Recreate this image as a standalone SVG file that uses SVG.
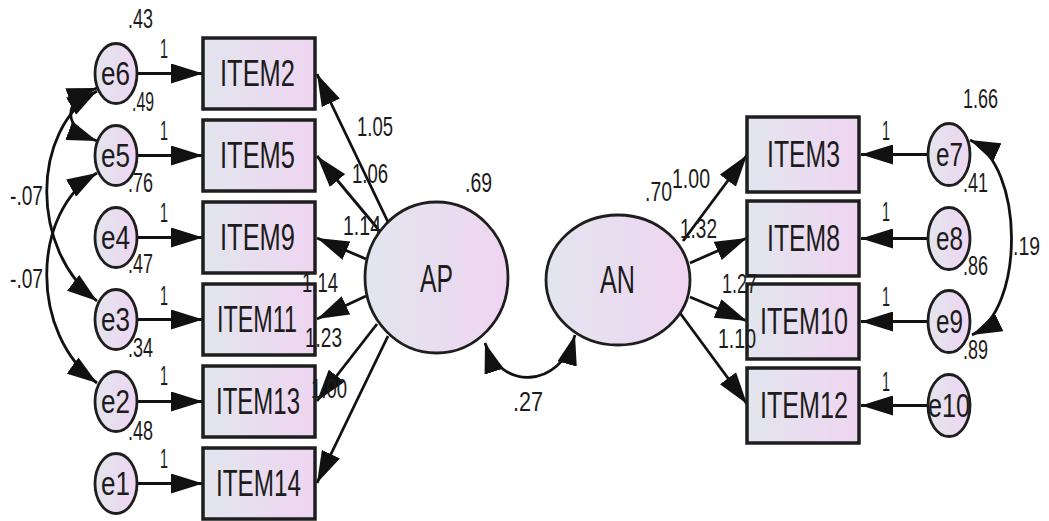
<svg xmlns="http://www.w3.org/2000/svg" width="1049" height="521" viewBox="0 0 1049 521">
<style>
.t{font-family:"Liberation Sans",Arial,sans-serif;fill:#1c1c1c;}
.n{font-size:27px;}
.b{font-size:36px;}
.e{font-size:33px;}
.l{font-size:38px;}
.box{fill:url(#g);stroke:#1e1e1e;stroke-width:3.5;}
.cir{fill:url(#g);stroke:#1e1e1e;stroke-width:2.8;}
.c line,.c path{stroke:#111;stroke-width:2.8;fill:none;}
.a{marker-end:url(#ah);}
.cv{marker-start:url(#ah2);marker-end:url(#ah2);}
</style>
<defs>
<linearGradient id="g" x1="0" y1="0" x2="1" y2="0">
<stop offset="0" stop-color="#e2e5ee"/>
<stop offset="1" stop-color="#efd5f1"/>
</linearGradient>
<marker id="ah" viewBox="0 0 32 20" refX="32" refY="10" markerWidth="32" markerHeight="20" markerUnits="userSpaceOnUse" orient="auto">
<path d="M0,0 L32,10 L0,20 z" fill="#111"/>
</marker>
<marker id="ah2" viewBox="0 0 30 20" refX="30" refY="10" markerWidth="30" markerHeight="20" markerUnits="userSpaceOnUse" orient="auto-start-reverse">
<path d="M0,0 L30,10 L0,20 z" fill="#111"/>
</marker>
</defs>
<rect width="1049" height="521" fill="#fff"/>

<g id="connectors" class="c">
<line class="a" x1="137" y1="73.5" x2="203" y2="73.5"/>
<line class="a" x1="137" y1="155.5" x2="203" y2="155.5"/>
<line class="a" x1="137" y1="237.5" x2="203" y2="237.5"/>
<line class="a" x1="137" y1="319.5" x2="203" y2="319.5"/>
<line class="a" x1="137" y1="401.5" x2="203" y2="401.5"/>
<line class="a" x1="137" y1="483.5" x2="203" y2="483.5"/>
<line class="a" x1="388" y1="222" x2="317" y2="74"/>
<line class="a" x1="378" y1="229" x2="317" y2="156"/>
<line class="a" x1="366" y1="259" x2="317" y2="238"/>
<line class="a" x1="366" y1="296" x2="317" y2="319"/>
<line class="a" x1="377" y1="324" x2="317" y2="401"/>
<line class="a" x1="388" y1="336" x2="317" y2="483"/>
<line class="a" x1="683" y1="241" x2="747" y2="155"/>
<line class="a" x1="690" y1="263" x2="747" y2="238"/>
<line class="a" x1="690" y1="297" x2="747" y2="321"/>
<line class="a" x1="680" y1="313" x2="747" y2="404"/>
<line class="a" x1="928" y1="154.5" x2="861" y2="154.5"/>
<line class="a" x1="928" y1="238.5" x2="861" y2="238.5"/>
<line class="a" x1="928" y1="321.5" x2="861" y2="321.5"/>
<line class="a" x1="928" y1="405.5" x2="861" y2="405.5"/>
<path class="cv" d="M97,88 C62,100 62,128 97,141"/>
<path class="cv" d="M97,91 C30,130 30,250 97,301"/>
<path class="cv" d="M97,173 C30,212 30,335 97,383"/>
<path class="cv" d="M485,343 C500,390 560,390 575,335"/>
<path class="cv" d="M970,140 C1025,165 1025,310 972,335"/>
</g>

<g id="ITEM2"><rect class="box" x="203" y="38" width="112" height="71"/><text class="t b" x="220" y="86" textLength="75" lengthAdjust="spacingAndGlyphs">ITEM2</text></g>
<g id="ITEM5"><rect class="box" x="203" y="120" width="112" height="71"/><text class="t b" x="220" y="168" textLength="75" lengthAdjust="spacingAndGlyphs">ITEM5</text></g>
<g id="ITEM9"><rect class="box" x="203" y="202" width="112" height="71"/><text class="t b" x="220" y="250" textLength="75" lengthAdjust="spacingAndGlyphs">ITEM9</text></g>
<g id="ITEM11"><rect class="box" x="203" y="284" width="112" height="71"/><text class="t b" x="217" y="332" textLength="80" lengthAdjust="spacingAndGlyphs">ITEM11</text></g>
<g id="ITEM13"><rect class="box" x="203" y="366" width="112" height="71"/><text class="t b" x="216" y="414" textLength="84" lengthAdjust="spacingAndGlyphs">ITEM13</text></g>
<g id="ITEM14"><rect class="box" x="203" y="448" width="112" height="71"/><text class="t b" x="216" y="496" textLength="85" lengthAdjust="spacingAndGlyphs">ITEM14</text></g>

<g id="ITEM3"><rect class="box" x="747" y="117" width="112" height="75"/><text class="t b" x="767" y="167" textLength="73" lengthAdjust="spacingAndGlyphs">ITEM3</text></g>
<g id="ITEM8"><rect class="box" x="747" y="201" width="112" height="75"/><text class="t b" x="767" y="251" textLength="73" lengthAdjust="spacingAndGlyphs">ITEM8</text></g>
<g id="ITEM10"><rect class="box" x="747" y="284" width="112" height="75"/><text class="t b" x="760" y="334" textLength="88" lengthAdjust="spacingAndGlyphs">ITEM10</text></g>
<g id="ITEM12"><rect class="box" x="747" y="368" width="112" height="75"/><text class="t b" x="760" y="418" textLength="88" lengthAdjust="spacingAndGlyphs">ITEM12</text></g>

<g id="e6"><ellipse class="cir" cx="116" cy="73.5" rx="21" ry="30"/><text class="t e" x="101" y="85" textLength="29" lengthAdjust="spacingAndGlyphs">e6</text></g>
<g id="e5"><ellipse class="cir" cx="116" cy="155.5" rx="21" ry="30"/><text class="t e" x="101" y="167" textLength="29" lengthAdjust="spacingAndGlyphs">e5</text></g>
<g id="e4"><ellipse class="cir" cx="116" cy="237.5" rx="21" ry="30"/><text class="t e" x="101" y="249" textLength="29" lengthAdjust="spacingAndGlyphs">e4</text></g>
<g id="e3"><ellipse class="cir" cx="116" cy="319.5" rx="21" ry="30"/><text class="t e" x="101" y="331" textLength="29" lengthAdjust="spacingAndGlyphs">e3</text></g>
<g id="e2"><ellipse class="cir" cx="116" cy="401.5" rx="21" ry="30"/><text class="t e" x="101" y="413" textLength="29" lengthAdjust="spacingAndGlyphs">e2</text></g>
<g id="e1"><ellipse class="cir" cx="116" cy="483.5" rx="21" ry="30"/><text class="t e" x="101" y="495" textLength="29" lengthAdjust="spacingAndGlyphs">e1</text></g>

<g id="e7"><ellipse class="cir" cx="949" cy="154.5" rx="21" ry="31"/><text class="t e" x="936" y="166" textLength="27" lengthAdjust="spacingAndGlyphs">e7</text></g>
<g id="e8"><ellipse class="cir" cx="949" cy="238.5" rx="21" ry="31"/><text class="t e" x="936" y="250" textLength="27" lengthAdjust="spacingAndGlyphs">e8</text></g>
<g id="e9"><ellipse class="cir" cx="949" cy="321.5" rx="21" ry="31"/><text class="t e" x="936" y="333" textLength="27" lengthAdjust="spacingAndGlyphs">e9</text></g>
<g id="e10"><ellipse class="cir" cx="949" cy="405.5" rx="21" ry="31"/><text class="t e" x="928" y="417" textLength="42" lengthAdjust="spacingAndGlyphs">e10</text></g>

<g id="AP"><ellipse class="cir" cx="436.5" cy="277.5" rx="71.5" ry="75.5"/><text class="t l" x="420" y="292" textLength="33" lengthAdjust="spacingAndGlyphs">AP</text></g>
<g id="AN"><ellipse class="cir" cx="618" cy="280" rx="72" ry="65"/><text class="t l" x="600" y="293" textLength="35" lengthAdjust="spacingAndGlyphs">AN</text></g>

<g id="labels" class="t n">
<text x="128" y="28" textLength="25" lengthAdjust="spacingAndGlyphs">.43</text>
<text x="160" y="58" textLength="8" lengthAdjust="spacingAndGlyphs">1</text>
<text x="132" y="111" textLength="22" lengthAdjust="spacingAndGlyphs">.49</text>
<text x="160" y="140" textLength="8" lengthAdjust="spacingAndGlyphs">1</text>
<text x="128" y="192" textLength="25" lengthAdjust="spacingAndGlyphs">.76</text>
<text x="10" y="205" textLength="33" lengthAdjust="spacingAndGlyphs">-.07</text>
<text x="160" y="222" textLength="8" lengthAdjust="spacingAndGlyphs">1</text>
<text x="128" y="273" textLength="25" lengthAdjust="spacingAndGlyphs">.47</text>
<text x="10" y="288" textLength="33" lengthAdjust="spacingAndGlyphs">-.07</text>
<text x="160" y="305" textLength="8" lengthAdjust="spacingAndGlyphs">1</text>
<text x="128" y="357" textLength="25" lengthAdjust="spacingAndGlyphs">.34</text>
<text x="160" y="385" textLength="8" lengthAdjust="spacingAndGlyphs">1</text>
<text x="128" y="440" textLength="25" lengthAdjust="spacingAndGlyphs">.48</text>
<text x="160" y="468" textLength="8" lengthAdjust="spacingAndGlyphs">1</text>
<text x="357" y="136" textLength="36" lengthAdjust="spacingAndGlyphs">1.05</text>
<text x="352" y="183" textLength="36" lengthAdjust="spacingAndGlyphs">1.06</text>
<text x="343" y="235" textLength="38" lengthAdjust="spacingAndGlyphs">1.14</text>
<text x="302" y="292" textLength="36" lengthAdjust="spacingAndGlyphs">1.14</text>
<text x="305" y="347" textLength="37" lengthAdjust="spacingAndGlyphs">1.23</text>
<text x="311" y="398" textLength="36" lengthAdjust="spacingAndGlyphs">1.00</text>
<text x="465" y="192" textLength="27" lengthAdjust="spacingAndGlyphs">.69</text>
<text x="513" y="411" textLength="30" lengthAdjust="spacingAndGlyphs">.27</text>
<text x="645" y="201" textLength="27" lengthAdjust="spacingAndGlyphs">.70</text>
<text x="672" y="188" textLength="38" lengthAdjust="spacingAndGlyphs">1.00</text>
<text x="680" y="238" textLength="37" lengthAdjust="spacingAndGlyphs">1.32</text>
<text x="722" y="293" textLength="35" lengthAdjust="spacingAndGlyphs">1.27</text>
<text x="718" y="348" textLength="38" lengthAdjust="spacingAndGlyphs">1.10</text>
<text x="882" y="140" textLength="8" lengthAdjust="spacingAndGlyphs">1</text>
<text x="882" y="221" textLength="8" lengthAdjust="spacingAndGlyphs">1</text>
<text x="882" y="306" textLength="8" lengthAdjust="spacingAndGlyphs">1</text>
<text x="882" y="391" textLength="8" lengthAdjust="spacingAndGlyphs">1</text>
<text x="963" y="108" textLength="35" lengthAdjust="spacingAndGlyphs">1.66</text>
<text x="963" y="192" textLength="25" lengthAdjust="spacingAndGlyphs">.41</text>
<text x="1013" y="255" font-size="25" textLength="27" lengthAdjust="spacingAndGlyphs">.19</text>
<text x="963" y="275" textLength="25" lengthAdjust="spacingAndGlyphs">.86</text>
<text x="963" y="359" textLength="25" lengthAdjust="spacingAndGlyphs">.89</text>
</g>
</svg>
